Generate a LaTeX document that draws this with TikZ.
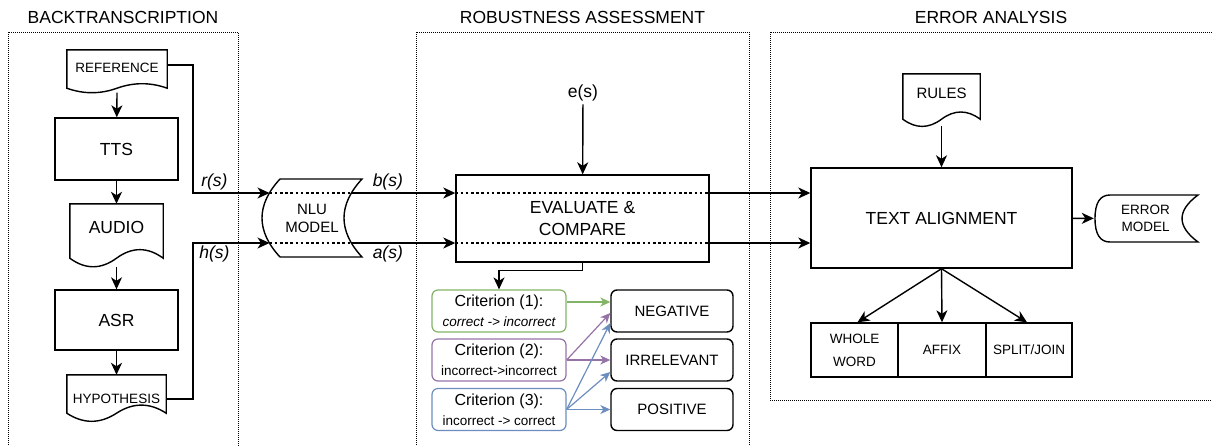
\documentclass[tikz,border=0pt]{standalone}
\usepackage{fontspec}
\setmainfont{Liberation Sans}
\usetikzlibrary{arrows.meta,calc}

\definecolor{cgreen}{HTML}{82B366}
\definecolor{cpurple}{HTML}{9673A6}
\definecolor{cblue}{HTML}{6C8EBF}

\tikzset{
  conn/.style={line width=1.4pt},
  arr/.style={conn, -{Stealth[length=12pt,width=11pt,inset=3.5pt]}},
  carr/.style={line width=1.2pt, -{Stealth[length=10pt,width=9pt,inset=3pt]}},
  box/.style={draw, line width=1.4pt, align=center, inner sep=0pt},
  plain/.style={align=center, inner sep=0pt},
  crit/.style={draw, line width=1.2pt, rounded corners=6pt, minimum width=134pt,
    minimum height=42pt, align=center, inner sep=0pt},
  outbox/.style={draw, line width=1.4pt, rounded corners=6pt, minimum width=122pt,
    minimum height=42pt, inner sep=0pt},
  container/.style={line width=0.8pt, dash pattern=on 1pt off 1pt},
  innerdots/.style={line width=2.6pt, dash pattern=on 2.6pt off 2.6pt},
  txtbig/.style={font=\fontsize{17.5}{22}\selectfont},
  txtmid/.style={font=\fontsize{15}{18}\selectfont},
  txtsmall/.style={font=\fontsize{13.5}{17}\selectfont},
  lbl/.style={font=\fontsize{17.5}{21}\selectfont\itshape, inner sep=2pt},
}

% document outline under a named node: node, side drop, wave height
\newcommand\docwave[3]{%
  \draw[conn] ($(#1.south west)+(0,#2)$) -- (#1.north west) -- (#1.north east)
    -- ($(#1.south east)+(0,#2)$)
    .. controls ($(#1.south west)!0.8333!(#1.south east)+(0,#2-0.6*#3)$)
    and ($(#1.south west)!0.6667!(#1.south east)+(0,#2-0.6*#3)$) .. ($(#1.south)+(0,#2)$)
    .. controls ($(#1.south west)!0.3333!(#1.south east)+(0,#2+0.6*#3)$)
    and ($(#1.south west)!0.1667!(#1.south east)+(0,#2+0.6*#3)$) .. cycle;
  \coordinate (#1-b) at ($(#1.south)+(0,#2+0.45*#3)$);
}

\begin{document}
\begin{tikzpicture}[x=1pt, y=-1pt]
  \useasboundingbox (0,0) rectangle (1212,445);
  \begin{scope}
    \clip (0,0) rectangle (1212,445);
    \draw[container] (8,32) rectangle (238,450);
    \draw[container] (416,32) rectangle (749,450);
    \draw[container] (770,32) rectangle (1220,400);
  \end{scope}
  \node[plain, txtbig] (t-back) at (123,17.5) {BACKTRANSCRIPTION};
  \node[plain, txtbig] (t-rob) at (582.5,17.5) {ROBUSTNESS ASSESSMENT};
  \node[plain, txtbig] (t-err) at (991,17.5) {ERROR ANALYSIS};

  % backtranscription
  \node[plain, txtsmall, minimum width=100pt, minimum height=36pt] (ref) at (117,68) {REFERENCE};
  \docwave{ref}{2}{10}
  \node[box, txtbig, minimum width=123pt, minimum height=62pt] (tts) at (116.5,149) {TTS};
  \node[plain, txtbig, minimum width=93pt, minimum height=46pt] (audio) at (116.5,227) {AUDIO};
  \docwave{audio}{8}{19}
  \node[box, txtbig, minimum width=123pt, minimum height=60pt] (asr) at (116.5,320) {ASR};
  \node[plain, txtsmall, minimum width=99pt, minimum height=48pt] (hyp) at (116.5,399) {HYPOTHESIS};
  \docwave{hyp}{-10}{18}
  \draw[arr] (ref-b) -- (tts);
  \draw[arr] (tts) -- (audio);
  \draw[arr] (audio-b) -- (asr);
  \draw[arr] (asr) -- (hyp);

  % nlu model
  \node[plain, txtmid, minimum width=100pt, minimum height=78pt] (nlu) at (312,218) {NLU\\MODEL};
  \draw[conn] (280,179) -- (362,179) .. controls (338,205) and (338,231) .. (362,257)
    -- (280,257) .. controls (256,231) and (256,205) .. cycle;
  \coordinate (nlu-r) at (269.5,193);
  \coordinate (nlu-h) at (269.5,243);
  \coordinate (nlu-b) at (351.5,193);
  \coordinate (nlu-a) at (351.5,243);
  \draw[innerdots] (nlu-r) -- (nlu-b);
  \draw[innerdots] (nlu-h) -- (nlu-a);
  \draw[arr] ([yshift=3pt]ref.east) -- (193,65) -- (193,193)
    -- node[pos=0.28, above, lbl] {r(s)} (nlu-r);
  \draw[arr] (hyp.east) -- (193,399) -- (193,243)
    -- node[pos=0.28, below, lbl] {h(s)} (nlu-h);

  % robustness assessment
  \node[box, txtbig, minimum width=253pt, minimum height=87pt] (eval) at (582.5,218.5) {EVALUATE \&\\COMPARE};
  \draw[innerdots] ([yshift=25.5pt]eval.west) -- ([yshift=25.5pt]eval.east);
  \draw[innerdots] ([yshift=-24.5pt]eval.west) -- ([yshift=-24.5pt]eval.east);
  \draw[arr] (nlu-b) -- node[pos=0.35, above, lbl] {b(s)} ([yshift=25.5pt]eval.west);
  \draw[arr] (nlu-a) -- node[pos=0.35, below, lbl] {a(s)} ([yshift=-24.5pt]eval.west);
  \node[plain, txtbig, inner sep=3pt] (es) at (583,93) {e(s)};
  \draw[arr] (es) -- (eval);

  \node[crit, draw=cgreen, font=\fontsize{16}{20}\selectfont] (crit1) at (499,311)
    {Criterion (1):\\{\fontsize{13.5}{17}\selectfont\itshape correct -> incorrect}};
  \node[crit, draw=cpurple, font=\fontsize{16}{20}\selectfont] (crit2) at (499,360)
    {Criterion (2):\\{\fontsize{13.5}{17}\selectfont incorrect->incorrect}};
  \node[crit, draw=cblue, font=\fontsize{16}{20}\selectfont] (crit3) at (499,409.5)
    {Criterion (3):\\{\fontsize{13.5}{17}\selectfont incorrect -> correct}};
  \node[outbox, txtmid] (neg) at (672,311) {NEGATIVE};
  \node[outbox, txtmid] (irr) at (672,360) {IRRELEVANT};
  \node[outbox, txtmid] (pos) at (672,409.5) {POSITIVE};
  \draw[arr] (eval.south) -- ++(0,8) -| (crit1.north);
  \draw[carr, cgreen] ([yshift=9pt]crit1.east) -- ([yshift=9pt]neg.west);
  \draw[carr, cpurple] (crit2.east) -- ([yshift=-2pt]neg.west);
  \draw[carr, cpurple] (crit2.east) -- (irr.west);
  \draw[carr, cblue] (crit3.east) -- ([yshift=-12pt]neg.west);
  \draw[carr, cblue] (crit3.east) -- ([yshift=-12pt]irr.west);
  \draw[carr, cblue] (crit3.east) -- (pos.west);

  % error analysis
  \node[box, txtbig, minimum width=261pt, minimum height=100pt] (align) at (941.5,218) {TEXT ALIGNMENT};
  \draw[arr] ([yshift=25.5pt]eval.east) -- ([yshift=25pt]align.west);
  \draw[arr] ([yshift=-24.5pt]eval.east) -- ([yshift=-25pt]align.west);
  \node[plain, txtmid, minimum width=77pt, minimum height=38pt] (rules) at (941.5,93) {RULES};
  \docwave{rules}{7}{16}
  \draw[arr] (rules-b) -- (align);
  \node[plain, txtsmall, minimum width=103pt, minimum height=47pt] (errm) at (1145.5,218.5) {ERROR\\MODEL};
  \draw[conn] (1095,218.5) .. controls (1095,202.8) and (1100,195) .. (1110,195) -- (1198,195)
    .. controls (1176.7,210.7) and (1176.7,226.3) .. (1198,242) -- (1110,242)
    .. controls (1100,242) and (1095,234.2) .. cycle;
  \draw[arr] (align) -- (errm);
  \node[box, minimum width=87pt, minimum height=54pt, font=\fontsize{13.5}{23}\selectfont] (whole) at (854.5,350) {WHOLE\\WORD};
  \node[box, txtsmall, minimum width=88pt, minimum height=54pt] (affix) at (942,350) {AFFIX};
  \node[box, txtsmall, minimum width=86pt, minimum height=54pt] (split) at (1029,350) {SPLIT/JOIN};
  \draw[arr] (align.south) -- ([xshift=3pt]whole.north);
  \draw[arr] (align.south) -- (affix.north);
  \draw[arr] (align.south) -- ([xshift=-2pt]split.north);
\end{tikzpicture}
\end{document}
